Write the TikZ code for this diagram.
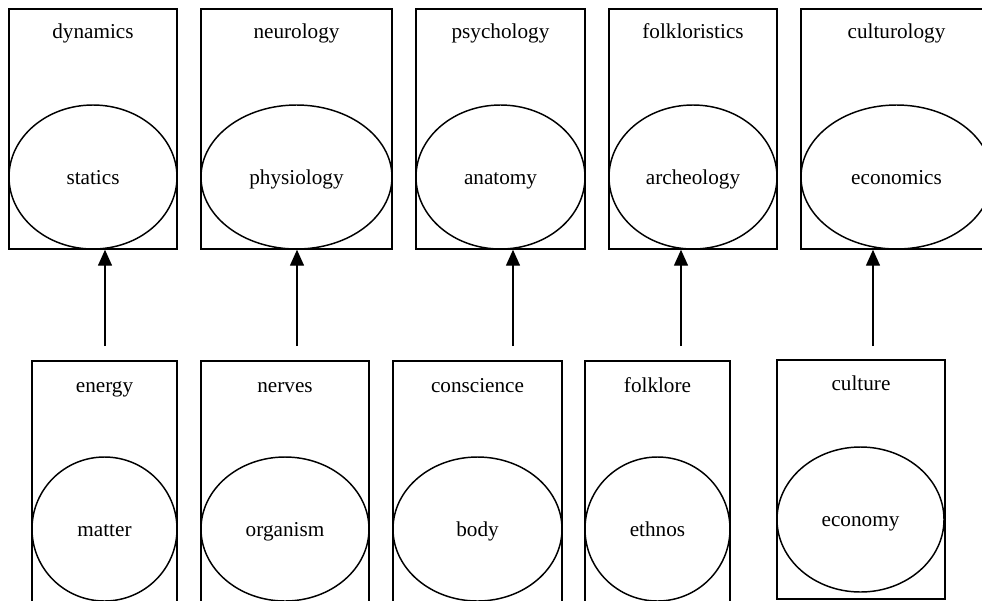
\documentclass[tikz,border=0pt]{standalone}
\usepackage{fontspec}
\setmainfont{Liberation Serif}
\usetikzlibrary{shapes.geometric,arrows.meta}

\begin{document}
\begin{tikzpicture}[
  x=0.75pt, y=-0.75pt,
  cluster/.style={draw, line width=1.1pt, minimum height=180pt, inner sep=0pt},
  topic/.style={draw, ellipse, line width=1.1pt, minimum height=108pt, inner sep=0pt},
  title/.style={anchor=base},
  arrow/.style={-{Triangle[length=12pt,width=10.5pt]}, line width=1.1pt},
  every node/.style={font=\fontsize{15.9}{18}\selectfont}
]
\useasboundingbox (0,0) rectangle (982,600);
\clip (0,0) rectangle (982,600);

% Upper row
\node[cluster, minimum width=126pt] (dynamics) at (93, 129) {};
\node[topic, minimum width=126pt] (statics) at (93, 177) {};
\node[title] (dynamicst) at (93, 38) {dynamics};
\node[title] (staticst) at (93, 184) {statics};

\node[cluster, minimum width=143.25pt] (neurology) at (296.5, 129) {};
\node[topic, minimum width=143.25pt] (physiology) at (296.5, 177) {};
\node[title] (neurologyt) at (296.5, 38) {neurology};
\node[title] (physiologyt) at (296.5, 184) {physiology};

\node[cluster, minimum width=126.75pt] (psychology) at (500.5, 129) {};
\node[topic, minimum width=126.75pt] (anatomy) at (500.5, 177) {};
\node[title] (psychologyt) at (500.5, 38) {psychology};
\node[title] (anatomyt) at (500.5, 184) {anatomy};

\node[cluster, minimum width=126pt] (folkloristics) at (693, 129) {};
\node[topic, minimum width=126pt] (archeology) at (693, 177) {};
\node[title] (folkloristicst) at (693, 38) {folkloristics};
\node[title] (archeologyt) at (693, 184) {archeology};

\node[cluster, minimum width=143.25pt] (culturology) at (896.5, 129) {};
\node[topic, minimum width=143.25pt] (economics) at (896.5, 177) {};
\node[title] (culturologyt) at (896.5, 38) {culturology};
\node[title] (economicst) at (896.5, 184) {economics};

% Lower row
\node[cluster, minimum width=108.75pt, minimum height=183pt] (energy) at (104.5, 483) {};
\node[topic, minimum width=108.75pt] (matter) at (104.5, 529) {};
\node[title] (energyt) at (104.5, 392) {energy};
\node[title] (mattert) at (104.5, 536) {matter};

\node[cluster, minimum width=126pt, minimum height=183pt] (nerves) at (285, 483) {};
\node[topic, minimum width=126pt] (organism) at (285, 529) {};
\node[title] (nervest) at (285, 392) {nerves};
\node[title] (organismt) at (285, 536) {organism};

\node[cluster, minimum width=126.75pt, minimum height=183pt] (conscience) at (477.5, 483) {};
\node[topic, minimum width=126.75pt] (body) at (477.5, 529) {};
\node[title] (consciencet) at (477.5, 392) {conscience};
\node[title] (bodyt) at (477.5, 536) {body};

\node[cluster, minimum width=108.75pt, minimum height=183pt] (folklore) at (657.5, 483) {};
\node[topic, minimum width=108.75pt] (ethnos) at (657.5, 529) {};
\node[title] (folkloret) at (657.5, 392) {folklore};
\node[title] (ethnost) at (657.5, 536) {ethnos};

\node[cluster, minimum width=126pt, minimum height=179.25pt] (culture) at (861, 479.5) {};
\node[topic, minimum width=125.25pt, minimum height=108.75pt] (economy) at (860.5, 519.5) {};
\node[title] (culturet) at (861, 390) {culture};
\node[title] (economyt) at (860.5, 526.5) {economy};

% Arrows
\coordinate (from1) at (105, 346);
\coordinate (from2) at (297, 346);
\coordinate (from3) at (513, 346);
\coordinate (from4) at (681, 346);
\coordinate (from5) at (873, 346);
\draw[arrow] (from1) -- (from1 |- dynamics.south);
\draw[arrow] (from2) -- (from2 |- neurology.south);
\draw[arrow] (from3) -- (from3 |- psychology.south);
\draw[arrow] (from4) -- (from4 |- folkloristics.south);
\draw[arrow] (from5) -- (from5 |- culturology.south);

\end{tikzpicture}
\end{document}
